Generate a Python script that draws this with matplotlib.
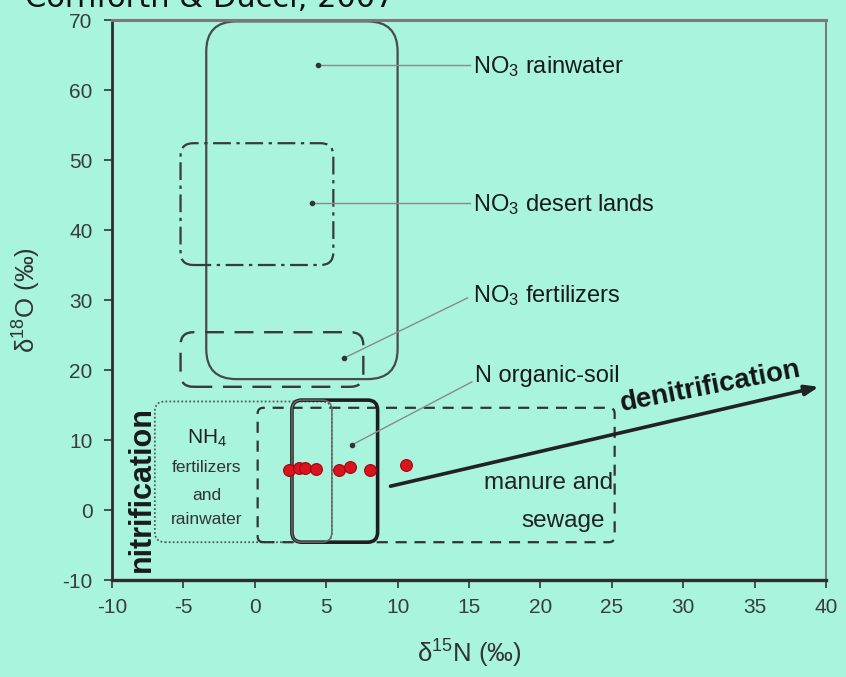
import matplotlib
matplotlib.use("Agg")
import matplotlib.pyplot as plt
from matplotlib.patches import FancyBboxPatch

# ---------------- data ----------------
sample_n = [2.4, 3.1, 3.5, 4.3, 5.9, 6.7, 8.1, 10.6]
sample_o = [5.7, 6.0, 6.0, 5.9, 5.7, 6.1, 5.7, 6.5]

box_names = ["NO3 rainwater", "NO3 desert lands", "NO3 fertilizers",
             "NH4 fertilizers and rainwater", "manure and sewage",
             "N organic-soil", "N organic-soil (inner)"]
box_n_min = [-3.4, -5.2, -5.2, -7.0, 0.2, 2.6, 2.6]
box_n_max = [10.0, 5.5, 7.6, 5.4, 25.2, 8.6, 5.4]
box_o_min = [18.7, 35.0, 17.6, -4.6, -4.6, -4.6, -4.6]
box_o_max = [69.8, 52.4, 25.4, 15.5, 14.6, 15.7, 15.7]

# label anchors (dot position in box, text position)
label_texts = ["NO$_3$ rainwater", "NO$_3$ desert lands", "NO$_3$ fertilizers", "N organic-soil"]
dot_n = [4.4, 4.0, 6.25, 6.8]
dot_o = [63.6, 43.9, 21.7, 9.3]
text_n = [15.3, 15.3, 15.3, 15.4]
text_o = [63.4, 43.6, 30.7, 19.2]
line_end_n = [15.1, 15.1, 14.9, 15.2]
line_end_o = [63.6, 43.9, 30.3, 18.3]

arrow_start = (9.5, 3.4)
arrow_end = (39.5, 17.6)

x_ticks = [-10, -5, 0, 5, 10, 15, 20, 25, 30, 35, 40]
y_ticks = [-10, 0, 10, 20, 30, 40, 50, 60, 70]

# ---------------- style ----------------
BG = "#a8f4dc"
SANS = ["Liberation Sans", "DejaVu Sans"]
plt.rcParams["font.family"] = SANS
plt.rcParams["mathtext.default"] = "regular"

W, H = 8.46, 6.77
fig = plt.figure(figsize=(W, H), dpi=100, facecolor=BG)
axpos = [112 / 846, 1 - 580 / 677, (826 - 112) / 846, (580 - 20) / 677]
ax = fig.add_axes(axpos, facecolor=BG)
ax.set_xlim(-10, 40)
ax.set_ylim(-10, 70)

# aspect factor so that rounded corners are circular in pixels
px_w = axpos[2] * W * 100
px_h = axpos[3] * H * 100
aspect = (80 / px_h) / (50 / px_w)

styles = [
    dict(ls="-", lw=1.6, ec="#4a4a4a", r=2.1),
    dict(ls=(0, (8, 2.5, 1.5, 2.5)), lw=1.6, ec="#3a3a3a", r=0.9),
    dict(ls=(0, (8, 4.5)), lw=1.7, ec="#3a3a3a", r=0.9),
    dict(ls=(0, (1, 1.2)), lw=1.3, ec="#5a5a5a", r=0.7),
    dict(ls=(0, (5, 3.5)), lw=1.6, ec="#333333", r=0.4),
    dict(ls="-", lw=2.6, ec="#1e1e1e", r=0.7),
    dict(ls="-", lw=1.1, ec="#6a6a6a", r=0.7),
]
for i, st in enumerate(styles):
    x0, x1 = box_n_min[i], box_n_max[i]
    y0, y1 = box_o_min[i], box_o_max[i]
    p = FancyBboxPatch((x0, y0), x1 - x0, y1 - y0,
                       boxstyle=f"round,pad=0,rounding_size={st['r']}",
                       mutation_aspect=aspect, fc="none", ec=st["ec"],
                       lw=st["lw"], ls=st["ls"], zorder=2)
    ax.add_patch(p)

# leader lines and labels
for i in range(len(label_texts)):
    ax.plot([dot_n[i], line_end_n[i]], [dot_o[i], line_end_o[i]],
            color="#8a8a8a", lw=1.0, zorder=3)
    ax.plot(dot_n[i], dot_o[i], "o", ms=3, color="#333333", zorder=4)
    ax.text(text_n[i], text_o[i], label_texts[i], fontsize=17, color="#1a1a1a",
            ha="left", va="center", zorder=5)

# samples
ax.plot(sample_n, sample_o, "o", ms=8.5, color="#d8141f", mec="#a8000e",
        mew=0.8, zorder=6, linestyle="none")

# denitrification arrow
ax.annotate("", xy=arrow_end, xytext=arrow_start,
            arrowprops=dict(arrowstyle="-|>,head_length=0.8,head_width=0.3",
                            color="#222222", lw=2.6, shrinkA=0, shrinkB=0),
            zorder=5)
ax.text(31.9, 17.6, "denitrification", fontsize=20, fontweight="bold",
        rotation=11, rotation_mode="anchor", ha="center", va="center",
        color="#151515", zorder=6)

# text blocks
ax.text(-3.35, 10.3, "NH$_4$", fontsize=15, ha="center", va="center", color="#222222")
ax.text(-3.35, 6.0, "fertilizers", fontsize=12.5, ha="center", va="center", color="#333333")
ax.text(-3.35, 2.1, "and", fontsize=12.5, ha="center", va="center", color="#333333")
ax.text(-3.35, -1.4, "rainwater", fontsize=12.5, ha="center", va="center", color="#333333")
ax.text(25.1, 3.8, "manure and", fontsize=17.5, ha="right", va="center", color="#222222")
ax.text(24.5, -1.5, "sewage", fontsize=17.5, ha="right", va="center", color="#222222")
ax.text(-7.9, 3.0, "nitrification", fontsize=22, fontweight="bold",
        rotation=90, ha="center", va="center", color="#1a1a1a")

# axes styling
ax.set_xticks(x_ticks)
ax.set_yticks(y_ticks)
ax.set_xticklabels([str(t) for t in x_ticks])
ax.set_yticklabels([str(t) for t in y_ticks])
ax.tick_params(axis="both", direction="out", length=6, width=1.2,
               colors="#333333", labelsize=15, labelcolor="#3c3c3c")
ax.tick_params(axis="x", pad=7)
ax.tick_params(axis="y", pad=8)
ax.spines["left"].set_color("#2e2e2e")
ax.spines["left"].set_linewidth(2.0)
ax.spines["bottom"].set_color("#2e2e2e")
ax.spines["bottom"].set_linewidth(2.4)
ax.spines["top"].set_color("#7a7a7a")
ax.spines["top"].set_linewidth(2.2)
ax.spines["right"].set_color("#777777")
ax.spines["right"].set_linewidth(1.4)

ax.set_xlabel("δ$^{15}$N (‰)", fontsize=18.5, color="#333333", labelpad=15)
ax.set_ylabel("δ$^{18}$O (‰)", fontsize=18.5, color="#333333", labelpad=14)

# cropped source caption at top
fig.text(0.03, 1 - 7 / 677, "Cornforth & Ducci, 2007", fontsize=22,
         family=["DejaVu Sans"], ha="left", va="baseline", color="#111111")

fig.savefig("out.png", dpi=100, facecolor=BG)
